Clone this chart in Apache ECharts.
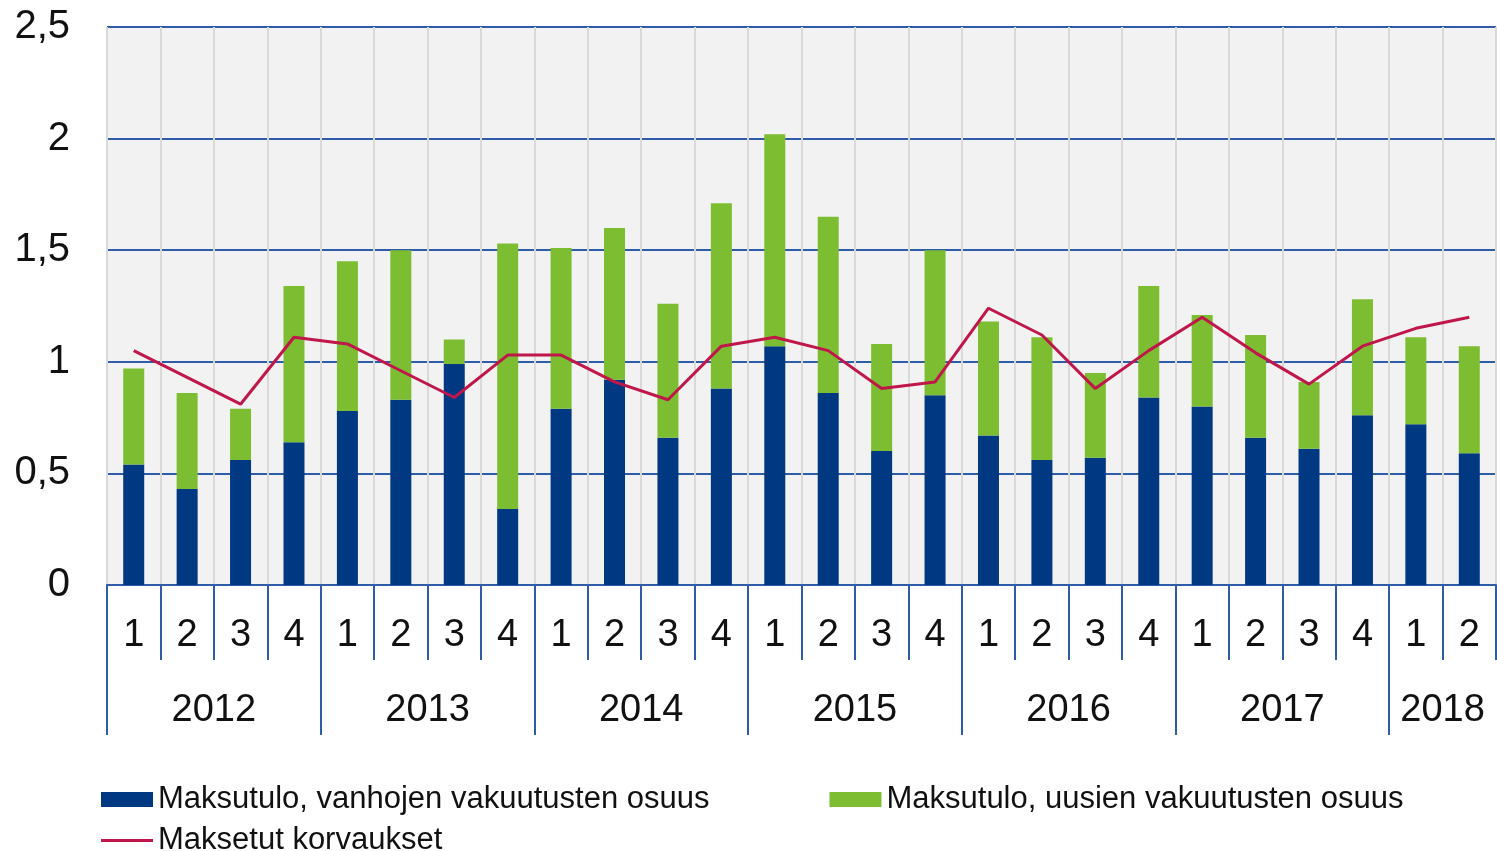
<!DOCTYPE html>
<html>
<head>
    <meta charset="utf-8">
    <title>Maksutulo ja korvaukset</title>
    <script src="https://cdn.jsdelivr.net/npm/echarts@6/dist/echarts.min.js"></script>
    <style>
        html, body { margin: 0; padding: 0; background: #fff; }
    </style>
</head>
<body>
    <div id="main" style="width: 1497px; height: 851px;"></div>
    <script type="text/javascript">
        // neljännekset 2012 Q1 - 2018 Q2
        var quarters = ['1','2','3','4','1','2','3','4','1','2','3','4','1','2','3','4',
                        '1','2','3','4','1','2','3','4','1','2'];
        var years = ['2012', '2013', '2014', '2015', '2016', '2017', '2018'];
        var yearStarts = [0, 4, 8, 12, 16, 20, 24];
        var yearMids = [2, 6, 10, 14, 18, 22, 25];

        var oldShare = [0.54, 0.43, 0.56, 0.64, 0.78, 0.83, 0.99, 0.34, 0.79, 0.92, 0.66, 0.88, 1.07,
                        0.86, 0.60, 0.85, 0.67, 0.56, 0.57, 0.84, 0.80, 0.66, 0.61, 0.76, 0.72, 0.59];
        var newShare = [0.43, 0.43, 0.23, 0.70, 0.67, 0.67, 0.11, 1.19, 0.72, 0.68, 0.60, 0.83, 0.95,
                        0.79, 0.48, 0.65, 0.51, 0.55, 0.38, 0.50, 0.41, 0.46, 0.30, 0.52, 0.39, 0.48];
        var claims = [1.05, 0.93, 0.81, 1.11, 1.08, 0.96, 0.84, 1.03, 1.03, 0.91, 0.83, 1.07, 1.11,
                      1.05, 0.88, 0.91, 1.24, 1.12, 0.88, 1.05, 1.20, 1.04, 0.90, 1.07, 1.15, 1.20];

        var names = ['Maksutulo, vanhojen vakuutusten osuus',
                     'Maksutulo, uusien vakuutusten osuus',
                     'Maksetut korvaukset'];

        var font = "'Liberation Sans', Arial, sans-serif";
        var axisBlue = '#2e5ca8';

        var myChart = echarts.init(document.getElementById('main'));

        var option = {
            animation: false,
            textStyle: { fontFamily: font },
            grid: {
                left: 107,
                right: 1,
                top: 27,
                bottom: 266,
                show: true,
                backgroundColor: '#f2f2f2',
                borderWidth: 0
            },
            legend: [
                {
                    left: 101,
                    top: 784,
                    padding: 0,
                    itemWidth: 52,
                    itemHeight: 15,
                    itemGap: 120,
                    selectedMode: false,
                    icon: 'rect',
                    data: [names[0], names[1]],
                    textStyle: { fontSize: 31, color: '#111', fontFamily: font }
                },
                {
                    left: 101,
                    top: 825,
                    padding: 0,
                    itemWidth: 52,
                    itemHeight: 3,
                    selectedMode: false,
                    icon: 'rect',
                    data: [names[2]],
                    textStyle: { fontSize: 31, color: '#111', fontFamily: font }
                }
            ],
            xAxis: [
                {
                    type: 'category',
                    data: quarters,
                    axisLine: { lineStyle: { color: axisBlue, width: 2 } },
                    axisTick: {
                        show: true,
                        interval: 0,
                        length: 75,
                        lineStyle: { color: axisBlue, width: 2 }
                    },
                    axisLabel: {
                        interval: 0,
                        margin: 32,
                        fontSize: 38,
                        color: '#111'
                    },
                    splitLine: {
                        show: true,
                        interval: 0,
                        lineStyle: { color: '#d9d9d9', width: 2 }
                    }
                },
                {
                    type: 'value',
                    position: 'bottom',
                    min: 0,
                    max: 26,
                    axisLine: { show: false },
                    splitLine: { show: false },
                    axisTick: {
                        show: true,
                        customValues: yearStarts,
                        length: 150,
                        lineStyle: { color: axisBlue, width: 2 }
                    },
                    axisLabel: {
                        customValues: yearMids,
                        margin: 107,
                        fontSize: 38,
                        color: '#111',
                        formatter: function (v) {
                            return years[yearMids.indexOf(v)];
                        }
                    }
                }
            ],
            yAxis: {
                type: 'value',
                min: 0,
                max: 2.5,
                interval: 0.5,
                axisLine: { show: false },
                axisTick: { show: false },
                axisLabel: {
                    margin: 37,
                    fontSize: 40,
                    color: '#111',
                    formatter: function (v) {
                        return String(v).replace('.', ',');
                    }
                },
                splitLine: { lineStyle: { color: axisBlue, width: 2 } }
            },
            series: [
                {
                    name: names[0],
                    type: 'bar',
                    stack: 'maksutulo',
                    barWidth: 21,
                    itemStyle: { color: '#003882' },
                    data: oldShare
                },
                {
                    name: names[1],
                    type: 'bar',
                    stack: 'maksutulo',
                    barWidth: 21,
                    itemStyle: { color: '#7cbd31' },
                    data: newShare
                },
                {
                    name: names[2],
                    type: 'line',
                    symbol: 'none',
                    lineStyle: { color: '#c0174b', width: 3 },
                    itemStyle: { color: '#c0174b' },
                    data: claims,
                    z: 5
                }
            ]
        };

        myChart.setOption(option);
    </script>
</body>
</html>
